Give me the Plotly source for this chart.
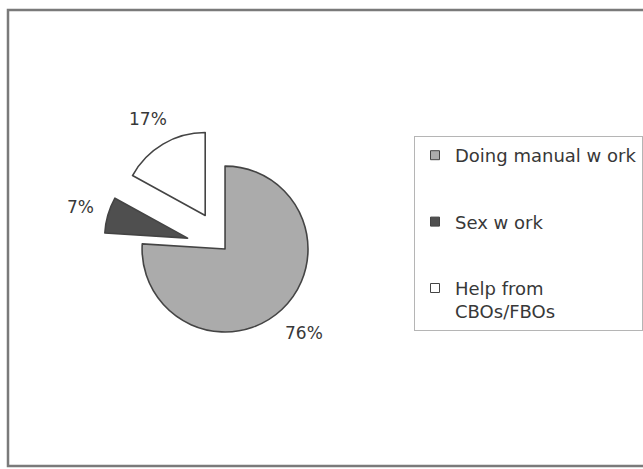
import math
import plotly.graph_objects as go

# Sources of income, share of respondents (%)
categories = ["Doing manual w ork", "Sex w ork", "Help from<br>CBOs/FBOs"]
values = [76, 7, 17]
pulls = [0, 0.47, 0.47]
fills = ["#ababab", "#4f4f4f", "#ffffff"]

LINE = "#444444"
TEXT = "#383838"
FONT = "DejaVu Sans"
LABEL_SIZE = 17
W, H = 643, 469
DOM_X = [0.160, 0.540]
DOM_Y = [0.209, 0.729]

fig = go.Figure()

fig.add_trace(go.Pie(
    labels=categories,
    values=values,
    pull=pulls,
    sort=False,
    direction="clockwise",
    rotation=0,
    marker=dict(colors=fills, line=dict(color=LINE, width=1.6)),
    textinfo="none",
    showlegend=False,
    hoverinfo="label+percent",
    domain=dict(x=DOM_X, y=DOM_Y),
))

# percentage labels placed along each slice's mid-angle, just clear of the rim
# (same geometry plotly uses: r = box / (2 + 2 * max pull))
cx = W * sum(DOM_X) / 2
cy = H * (1 - sum(DOM_Y) / 2)
r = min(W * (DOM_X[1] - DOM_X[0]), H * (DOM_Y[1] - DOM_Y[0])) / (2 + 2 * max(pulls))
total = sum(values)
gap = 16
start = 0.0
annotations = []
for v, p in zip(values, pulls):
    text = f"{v}%"
    mid = math.radians((start + v / 2) / total * 360)
    start += v
    sx, sy = math.sin(mid), -math.cos(mid)
    hw = 0.65 * LABEL_SIZE * len(text) / 2
    hh = 0.36 * LABEL_SIZE
    d = p * r + r + gap + hw * abs(sx) + hh * abs(sy)
    annotations.append(dict(
        x=(cx + sx * d) / W, y=1 - (cy + sy * d) / H,
        xref="paper", yref="paper", xanchor="center", yanchor="middle",
        text=text, showarrow=False,
        font=dict(family=FONT, size=LABEL_SIZE, color=TEXT),
    ))

# legend entries, one group per category so they can be spaced apart
for name, col in zip(categories, fills):
    fig.add_trace(go.Scatter(
        x=[None], y=[None], mode="markers", name=name,
        legendgroup=name,
        marker=dict(symbol="square", size=9, color=col,
                    line=dict(color=LINE, width=1)),
    ))

fig.update_layout(
    width=W, height=H,
    margin=dict(l=0, r=0, t=0, b=0),
    paper_bgcolor="white", plot_bgcolor="white",
    font=dict(family=FONT, color=TEXT),
    xaxis=dict(visible=False), yaxis=dict(visible=False),
    annotations=annotations,
    legend=dict(
        x=414 / W, y=(H - 136) / H, xanchor="left", yanchor="top",
        traceorder="grouped", tracegroupgap=40, valign="top",
        bordercolor="#b5b5b5", borderwidth=1, bgcolor="white",
        font=dict(family=FONT, size=18, color=TEXT),
        itemwidth=30,
    ),
    shapes=[
        dict(type="rect", xref="paper", yref="paper",
             x0=8 / W, x1=1.02, y0=(H - 466) / H, y1=(H - 10) / H,
             line=dict(color="#7a7a7a", width=2.5), fillcolor="rgba(0,0,0,0)",
             layer="below"),
    ],
)

fig.write_html("out.html")
